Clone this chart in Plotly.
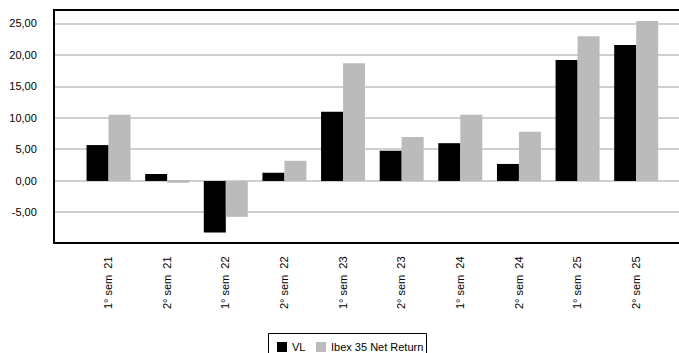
import plotly.graph_objects as go

categories = ["1° sem\u00a0 21", "2° sem\u00a0 21", "1° sem\u00a0 22", "2° sem\u00a0 22", "1° sem\u00a0 23",
              "2° sem\u00a0 23", "1° sem\u00a0 24", "2° sem\u00a0 24", "1° sem\u00a0 25", "2° sem\u00a0 25"]
vl = [5.7, 1.1, -8.2, 1.3, 11.0, 4.8, 6.0, 2.7, 19.2, 21.6]
ibex = [10.5, -0.3, -5.7, 3.2, 18.7, 7.0, 10.5, 7.8, 23.0, 25.4]
series_names = ["VL", "Ibex 35 Net Return"]
series_colors = ["#000000", "#bbbbbb"]
y_ticks = [-5, 0, 5, 10, 15, 20, 25]
y_labels = ["-5,00", "0,00", "5,00", "10,00", "15,00", "20,00", "25,00"]

# layout geometry in pixels
W, H = 679, 353
ML, MR, MT, MB = 55, 0, 11, 111
PW, PH = W - ML - MR, H - MT - MB


def px_x(px):
    return (px - ML) / PW


def px_y(py):
    return (H - MB - py) / PH


fig = go.Figure()
for vals, name, col in zip([vl, ibex], series_names, series_colors):
    fig.add_trace(go.Bar(x=list(range(len(categories))), y=vals, name=name,
                         marker=dict(color=col, line=dict(width=0)), showlegend=False))

# manual compact legend
shapes = [dict(type="rect", xref="paper", yref="paper", x0=px_x(268.5), x1=px_x(426.5),
               y0=px_y(356), y1=px_y(333.5), line=dict(color="#000000", width=1),
               fillcolor="white", layer="above")]
sym_x = [277, 316]
txt_x = [290, 329]
annotations = []
for sx, tx, name, col in zip(sym_x, txt_x, series_names, series_colors):
    shapes.append(dict(type="rect", xref="paper", yref="paper", x0=px_x(sx), x1=px_x(sx + 10),
                       y0=px_y(352), y1=px_y(342), line=dict(width=0), fillcolor=col, layer="above"))
    annotations.append(dict(xref="paper", yref="paper", x=px_x(tx), y=px_y(346.5), xanchor="left",
                            yanchor="middle", text=name, showarrow=False,
                            font=dict(size=11, color="#000000")))

fig.update_layout(
    width=W, height=H,
    margin=dict(l=ML, r=MR, t=MT, b=MB, autoexpand=False),
    paper_bgcolor="white", plot_bgcolor="white",
    barmode="group", bargap=0.25, bargroupgap=0.0,
    font=dict(family="Liberation Sans, Arial, sans-serif", size=11, color="#000000"),
    showlegend=False,
    shapes=shapes, annotations=annotations,
    xaxis=dict(range=[-0.913, 9.73], tickmode="array", tickvals=list(range(len(categories))),
               ticktext=categories, tickangle=-90, showgrid=False, zeroline=False,
               showline=True, linecolor="#000000", linewidth=2, mirror=True,
               ticks="", ticklabelstandoff=8),
    yaxis=dict(range=[-9.7, 27.0], tickmode="array", tickvals=y_ticks, ticktext=y_labels,
               showgrid=True, gridcolor="#d0d0d0", gridwidth=1.5,
               zeroline=True, zerolinecolor="#d0d0d0", zerolinewidth=2,
               showline=True, linecolor="#000000", linewidth=2, mirror=False,
               ticks="", ticklabelstandoff=14),
)

fig.write_html("out.html")
